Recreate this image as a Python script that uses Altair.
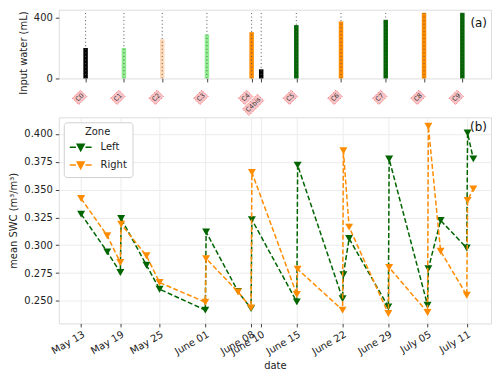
import math
import altair as alt
import pandas as pd

# ---------------- data ----------------
labels = ["C0", "C1", "C2", "C3", "C4", "C4bis", "C5", "C6", "C7", "C8", "C9"]
bar_dates = ["2021-05-13T00:00:00", "2021-05-19T00:00:00", "2021-05-25T00:00:00",
             "2021-06-01T00:00:00", "2021-06-08T00:00:00", "2021-06-09T12:00:00",
             "2021-06-15T00:00:00", "2021-06-22T00:00:00", "2021-06-29T00:00:00",
             "2021-07-05T00:00:00", "2021-07-11T00:00:00"]
water = [200, 200, 257, 289, 304, 60, 350, 374, 385, 431, 431]
bar_colors = ["#000000", "#90ee90", "#ffdab9", "#90ee90", "#ff8c00", "#000000",
              "#006400", "#ff8c00", "#006400", "#ff8c00", "#006400"]

swc_dates = ["2021-05-13T00:00:00", "2021-05-17T00:00:00", "2021-05-19T00:00:00", "2021-05-19T03:00:00",
             "2021-05-23T00:00:00", "2021-05-25T00:00:00", "2021-06-01T00:00:00", "2021-06-01T03:00:00",
             "2021-06-06T00:00:00", "2021-06-08T00:00:00", "2021-06-08T03:00:00", "2021-06-15T00:00:00",
             "2021-06-15T03:00:00", "2021-06-22T00:00:00", "2021-06-22T03:00:00", "2021-06-23T00:00:00",
             "2021-06-29T00:00:00", "2021-06-29T03:00:00", "2021-07-05T00:00:00", "2021-07-05T03:00:00",
             "2021-07-07T00:00:00", "2021-07-11T00:00:00", "2021-07-11T03:00:00", "2021-07-12T00:00:00"]
left_swc = [0.328, 0.294, 0.2755, 0.324, 0.282, 0.2605, 0.2417, 0.3119, 0.2585, 0.243, 0.323, 0.2491,
            0.372, 0.252, 0.2735, 0.306, 0.2446, 0.3775, 0.2461, 0.279, 0.3223, 0.2975, 0.4009, 0.3776]
right_swc = [0.342, 0.3085, 0.2845, 0.319, 0.2905, 0.2665, 0.2488, 0.288, 0.2581, 0.2437, 0.3655, 0.2557,
             0.2785, 0.2417, 0.385, 0.3163, 0.2386, 0.280, 0.2396, 0.4069, 0.2946, 0.2551, 0.3403, 0.3507]
zones = ["Left", "Right"]
zone_colors = ["#006400", "#ff8c00"]
panel_tags = ["(a)", "(b)"]

# ---------------- tables ----------------
bars_df = pd.DataFrame({"label": labels, "date": bar_dates, "water": water})
rows = []
for zone, vals in zip(zones, [left_swc, right_swc]):
    for i, (d, v) in enumerate(zip(swc_dates, vals)):
        rows.append({"zone": zone, "date": d, "swc": v, "i": i})
swc_df = pd.DataFrame(rows)


def dt(s):
    t = pd.Timestamp(s)
    return alt.DateTime(year=t.year, month=t.month, date=t.day, hours=t.hour)


tick_values = [dt(s) for s in bar_dates]
x_domain = [alt.DateTime(year=2021, month=5, date=9, hours=14),
            alt.DateTime(year=2021, month=7, date=14, hours=17)]
x_scale = alt.Scale(domain=x_domain)

W = 434
H_TOP = 69
H_BOT = 207
FRAME = "#444444"
FONT = "DejaVu Sans"


def rot_rect(w, h, ox, oy):
    c = math.cos(math.radians(-45))
    s = math.sin(math.radians(-45))
    pts = []
    for u, v in [(-w / 2, -h / 2), (w / 2, -h / 2), (w / 2, h / 2), (-w / 2, h / 2)]:
        pts.append(f"{u * c - v * s + ox:.2f},{u * s + v * c + oy:.2f}")
    return "M" + "L".join(pts) + "Z"


def tag(text, y):
    return alt.Chart(pd.DataFrame({"t": [text]})).mark_text(
        align="right", baseline="middle", fontSize=12, fontWeight="normal", color="#111"
    ).encode(x=alt.value(W - 4), y=alt.value(y), text="t:N")


# ---------------- top panel ----------------
x_top = alt.X("date:T", scale=x_scale,
              axis=alt.Axis(values=tick_values, labels=False, title=None, grid=False,
                            tickSize=3.5, tickColor=FRAME, domain=False))
base_top = alt.Chart(bars_df)

bars = base_top.mark_bar(size=4.5).encode(
    x=x_top,
    y=alt.Y("water:Q", scale=alt.Scale(domain=[0, 451], nice=False),
            axis=alt.Axis(values=[0, 200, 400], title="Input water (mL)", grid=False,
                          tickSize=3.5, tickColor=FRAME, domain=False, labelPadding=3,
                          titlePadding=5, titleY=43)),
    color=alt.Color("label:N", scale=alt.Scale(domain=labels, range=bar_colors), legend=None),
)
rules = base_top.mark_rule(strokeDash=[1, 2.6], color="#555555", strokeWidth=1).encode(
    x="date:T", y=alt.datum(0), y2=alt.datum(432)
)

box_fill = "#f8c4c7"
box_stroke = "#f07070"
lab_y = 88
norm = base_top.transform_filter(alt.datum.label != "C4bis")
bis = base_top.transform_filter(alt.datum.label == "C4bis")
boxes = norm.mark_point(shape=rot_rect(11.5, 9, -6, 0), size=4, filled=True, fill=box_fill,
                        stroke=box_stroke, strokeWidth=0.9, strokeDash=[1.5, 1], opacity=1).encode(
    x="date:T", y=alt.value(lab_y))
box_txt = norm.mark_text(angle=315, fontSize=6.5, color="#333", dx=-4.24, dy=-4.24).encode(
    x="date:T", y=alt.value(lab_y), text="label:N")
box_bis = bis.mark_point(shape=rot_rect(21, 9, -8, 7.5), size=4, filled=True, fill=box_fill,
                         stroke=box_stroke, strokeWidth=0.9, strokeDash=[1.5, 1], opacity=1).encode(
    x="date:T", y=alt.value(lab_y))
bis_txt = bis.mark_text(angle=315, fontSize=6.5, color="#333", dx=-11, dy=-0.35).encode(
    x="date:T", y=alt.value(lab_y), text="label:N")

top = alt.layer(bars, rules, tag(panel_tags[0], 13), boxes, box_txt, box_bis, bis_txt).properties(
    width=W, height=H_TOP)

# ---------------- bottom panel ----------------
legend_path = "M-1.83,0H-0.8M0.8,0H1.83M-0.58,-0.5H0.58L0,0.58Z"
color_enc = alt.Color(
    "zone:N", scale=alt.Scale(domain=zones, range=zone_colors),
    legend=alt.Legend(title="Zone", orient="top-left", offset=5, fillColor="white",
                      strokeColor="#d0d0d0", cornerRadius=3, padding=5,
                      titleAnchor="middle", titleFontSize=10, titleFontWeight="normal",
                      labelFontSize=10, symbolType=legend_path, symbolSize=144,
                      symbolStrokeWidth=1.5, rowPadding=4, symbolOffset=5, labelOffset=13,
                      titlePadding=3))
x_bot = alt.X("date:T", scale=x_scale,
              axis=alt.Axis(values=tick_values, title="date", grid=True, gridColor="#ececec",
                            labelExpr="timeFormat(timeOffset('hours', datum.value, 12), '%B %d')",
                            labelAngle=-30, labelAlign="right", labelBaseline="top",
                            labelOverlap=False,
                            tickSize=3.5, tickColor=FRAME, domain=False, labelPadding=2,
                            titlePadding=4))
y_bot = alt.Y("swc:Q", scale=alt.Scale(domain=[0.2297, 0.415], nice=False),
              axis=alt.Axis(values=[0.25, 0.275, 0.3, 0.325, 0.35, 0.375, 0.4], format=".3f",
                            title="mean SWC (m³/m³)", grid=True, gridColor="#ececec",
                            tickSize=3.5, tickColor=FRAME, domain=False, labelPadding=3,
                            titlePadding=5))

layers = []
for zone in zones:
    sub = alt.Chart(swc_df).transform_filter(alt.datum.zone == zone)
    layers.append(sub.mark_line(strokeDash=[5, 2.4], strokeWidth=1.5).encode(
        x=x_bot, y=y_bot, color=color_enc, order="i:Q"))
    layers.append(sub.mark_point(shape="triangle-down", filled=True, size=64, opacity=1).encode(
        x=x_bot, y=y_bot, color=color_enc))
bottom = alt.layer(*layers, tag(panel_tags[1], 10)).properties(width=W, height=H_BOT)

chart = alt.vconcat(top, bottom, spacing=39, bounds="flush").resolve_scale(
    color="independent"
).properties(
    padding={"left": 0, "top": 0, "right": 0, "bottom": 0}
).configure_view(
    stroke=FRAME, strokeWidth=1.2
).configure(
    font=FONT
).configure_axis(
    labelFontSize=10, titleFontSize=10, titleFontWeight="normal", labelColor="#222",
    titleColor="#222"
).configure_legend(
    labelColor="#222", titleColor="#222"
)

chart.save("out.html", embed_options={"renderer": "svg", "actions": False})
